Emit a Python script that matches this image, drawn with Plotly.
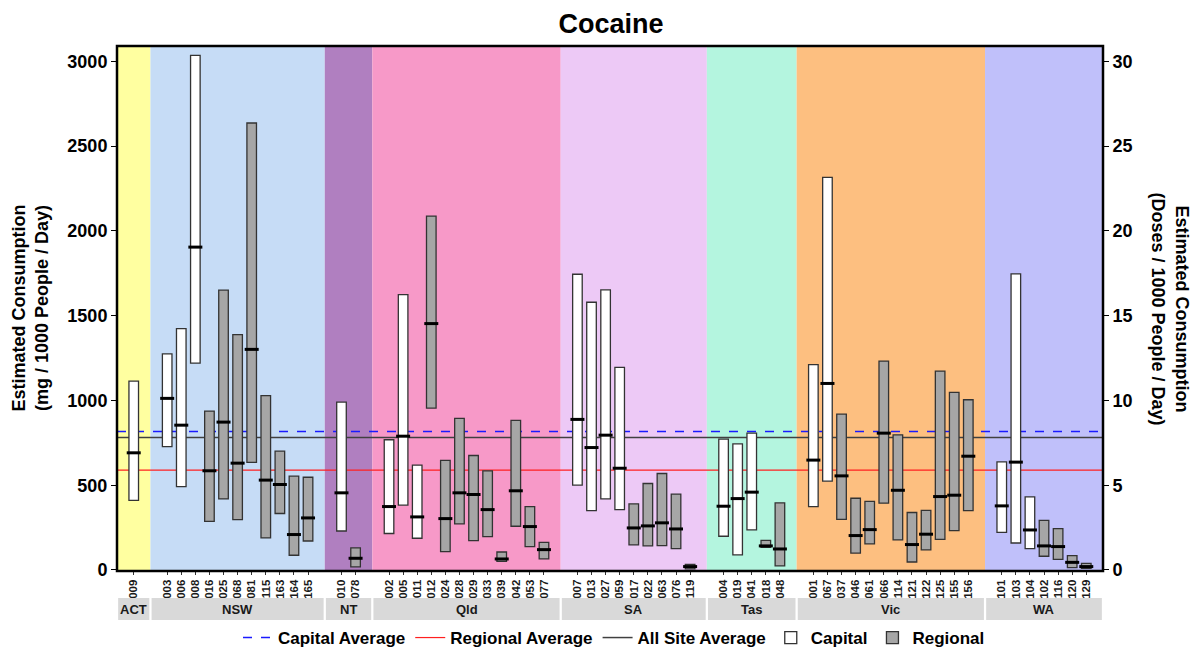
import plotly.graph_objects as go

# ---------------- data ----------------
states = ["ACT", "NSW", "NT", "Qld", "SA", "Tas", "Vic", "WA"]
state_colors = ["#FFFFA0", "#C6DCF6", "#B07FC0", "#F799C8", "#EDC9F6", "#B4F5DF", "#FDBF80", "#C0C0FA"]

sites = {
    "ACT": ["009"],
    "NSW": ["003", "006", "008", "016", "025", "068", "081", "115", "163", "164", "165"],
    "NT": ["010", "078"],
    "Qld": ["002", "005", "011", "012", "024", "028", "029", "033", "039", "042", "053", "077"],
    "SA": ["007", "013", "027", "059", "017", "022", "063", "076", "119"],
    "Tas": ["004", "019", "041", "018", "048"],
    "Vic": ["001", "067", "037", "046", "061", "066", "114", "121", "122", "125", "155", "156"],
    "WA": ["101", "103", "104", "102", "116", "120", "129"],
}
site_type = {
    "ACT": ["C"],
    "NSW": ["C", "C", "C", "R", "R", "R", "R", "R", "R", "R", "R"],
    "NT": ["C", "R"],
    "Qld": ["C", "C", "C", "R", "R", "R", "R", "R", "R", "R", "R", "R"],
    "SA": ["C", "C", "C", "C", "R", "R", "R", "R", "R"],
    "Tas": ["C", "C", "C", "R", "R"],
    "Vic": ["C", "C", "R", "R", "R", "R", "R", "R", "R", "R", "R", "R"],
    "WA": ["C", "C", "C", "R", "R", "R", "R"],
}
low = {
    "ACT": [411],
    "NSW": [728, 492, 1220, 287, 419, 297, 634, 189, 333, 87, 171],
    "NT": [230, 18],
    "Qld": [215, 382, 187, 955, 108, 272, 173, 197, 51, 258, 138, 65],
    "SA": [500, 350, 419, 356, 148, 142, 144, 126, 6],
    "Tas": [199, 89, 236, 134, 24],
    "Vic": [374, 524, 299, 100, 154, 394, 177, 47, 118, 181, 232, 350],
    "WA": [222, 159, 126, 81, 63, 14, 10],
}
high = {
    "ACT": [1114],
    "NSW": [1274, 1423, 3035, 937, 1650, 1388, 2636, 1028, 701, 553, 547],
    "NT": [990, 130],
    "Qld": [768, 1624, 618, 2087, 646, 894, 675, 585, 106, 882, 374, 163],
    "SA": [1744, 1579, 1652, 1195, 390, 510, 569, 447, 33],
    "Tas": [772, 744, 807, 175, 396],
    "Vic": [1211, 2315, 919, 423, 404, 1232, 797, 339, 352, 1173, 1047, 1004],
    "WA": [638, 1746, 431, 293, 244, 85, 39],
}
median = {
    "ACT": [691],
    "NSW": [1012, 854, 1904, 585, 872, 630, 1301, 530, 504, 209, 307],
    "NT": [455, 69],
    "Qld": [374, 789, 313, 1453, 303, 455, 445, 356, 65, 467, 256, 120],
    "SA": [888, 722, 795, 600, 248, 260, 278, 242, 20],
    "Tas": [376, 421, 459, 142, 124],
    "Vic": [648, 1100, 555, 203, 238, 807, 470, 150, 211, 433, 441, 671],
    "WA": [378, 636, 236, 142, 138, 45, 20],
}
capital_average = 817
regional_average = 589
all_site_average = 782

y_ticks = [0, 500, 1000, 1500, 2000, 2500, 3000]
y2_ticks = [0, 5, 10, 15, 20, 25, 30]
mg_per_dose = 100

# ---------------- layout helpers ----------------
PAD = 1.375  # extra units per state panel
OFF = PAD / 2 + 0.5  # centre offset of first site in a panel
BAR_W = 0.68
Y_MIN, Y_MAX = -6, 3090

groups = []  # (state, x0, x1)
xs, labels, lows, highs, meds, types = [], [], [], [], [], []
start = 0.0
for st in states:
    n = len(sites[st])
    groups.append((st, start, start + n + PAD))
    for i in range(n):
        xs.append(start + OFF + i)
        labels.append(sites[st][i])
        lows.append(low[st][i])
        highs.append(high[st][i])
        meds.append(median[st][i])
        types.append(site_type[st][i])
    start += n + PAD
X_MAX = start

fig = go.Figure()

# average lines (main subplot, behind bars)
fig.add_trace(go.Scatter(x=[0, X_MAX], y=[capital_average] * 2, mode="lines",
                         line=dict(color="#1A1AFF", width=1.5, dash="dash"),
                         name="Capital Average", xaxis="x", yaxis="y"))
fig.add_trace(go.Scatter(x=[0, X_MAX], y=[regional_average] * 2, mode="lines",
                         line=dict(color="#FF2020", width=1.2),
                         name="Regional Average", xaxis="x", yaxis="y"))
fig.add_trace(go.Scatter(x=[0, X_MAX], y=[all_site_average] * 2, mode="lines",
                         line=dict(color="#404040", width=1.5),
                         name="All Site Average", xaxis="x", yaxis="y"))

# bars on overlay subplot so they sit above the average lines
for t, nm, col in [("C", "Capital", "#FFFFFF"), ("R", "Regional", "#A6A6A6")]:
    idx = [i for i in range(len(xs)) if types[i] == t]
    fig.add_trace(go.Bar(
        x=[xs[i] for i in idx],
        base=[lows[i] for i in idx],
        y=[highs[i] - lows[i] for i in idx],
        width=BAR_W,
        marker=dict(color=col, line=dict(color="#333333", width=1.3)),
        name=nm, xaxis="x2", yaxis="y3",
    ))

# medians
fig.add_trace(go.Scatter(x=xs, y=meds, mode="markers",
                         marker=dict(symbol="line-ew", size=10, color="black",
                                     line=dict(color="black", width=3)),
                         showlegend=False, hoverinfo="skip", xaxis="x2", yaxis="y3"))

# dummy trace for right axis
fig.add_trace(go.Scatter(x=[xs[0]], y=[0], mode="markers", marker=dict(opacity=0),
                         showlegend=False, hoverinfo="skip", xaxis="x", yaxis="y2"))

PLOT_L, PLOT_R, PLOT_T, PLOT_B = 117, 1103, 46, 571
PW = PLOT_R - PLOT_L
PH = PLOT_B - PLOT_T

def px_to_paper_x(px):
    return (px - PLOT_L) / PW

def py_to_paper_y(py):
    return (PLOT_B - py) / PH

shapes = []
annotations = []
STRIP_Y0, STRIP_Y1 = py_to_paper_y(620), py_to_paper_y(598)
for (st, x0, x1), col in zip(groups, state_colors):
    shapes.append(dict(type="rect", xref="x", yref="paper", x0=x0, x1=x1, y0=0, y1=1,
                       fillcolor=col, line=dict(width=0), layer="below"))
    shapes.append(dict(type="rect", xref="x", yref="paper", x0=x0 + 0.08, x1=x1 - 0.08,
                       y0=STRIP_Y0, y1=STRIP_Y1, fillcolor="#D9D9D9", line=dict(width=0)))
    annotations.append(dict(x=(x0 + x1) / 2, y=(STRIP_Y0 + STRIP_Y1) / 2, xref="x", yref="paper",
                            text=st, showarrow=False, yanchor="middle",
                            font=dict(family="Liberation Sans", size=13, color="#1A1A1A", weight="bold")))

# plot border
shapes.append(dict(type="rect", xref="paper", yref="paper", x0=0, x1=1, y0=0, y1=1,
                   line=dict(color="black", width=2.5), fillcolor="rgba(0,0,0,0)", layer="above"))

title_font = dict(family="Liberation Sans", size=18, color="black", weight="bold")
annotations.append(dict(x=px_to_paper_x(30), y=0.5, xref="paper", yref="paper",
                        xanchor="center", yanchor="middle",
                        text="Estimated Consumption<br>(mg / 1000 People / Day)", showarrow=False,
                        textangle=-90, font=title_font))
annotations.append(dict(x=px_to_paper_x(1170), y=0.5, xref="paper", yref="paper",
                        xanchor="center", yanchor="middle",
                        text="Estimated Consumption<br>(Doses / 1000 People / Day)", showarrow=False,
                        textangle=90, font=title_font))

tickfont = dict(family="Liberation Sans", size=18, color="black", weight="bold")
fig.update_layout(
    width=1192, height=650,
    margin=dict(l=PLOT_L, r=1192 - PLOT_R, t=PLOT_T, b=650 - PLOT_B, autoexpand=False),
    paper_bgcolor="white", plot_bgcolor="rgba(0,0,0,0)",
    barmode="overlay",
    title=dict(text="Cocaine", x=px_to_paper_x(611), xref="paper", xanchor="center",
               y=1 - 24 / 650, yref="container", yanchor="middle",
               font=dict(family="Liberation Sans", size=27, color="black", weight="bold")),
    xaxis=dict(range=[0, X_MAX], tickmode="array", tickvals=xs, ticktext=labels,
               tickangle=-90, ticks="outside", ticklen=3, tickcolor="#333333",
               tickfont=dict(family="Liberation Sans", size=11.5, color="#1A1A1A", weight="bold"),
               showgrid=False, zeroline=False, showline=False),
    xaxis2=dict(range=[0, X_MAX], overlaying="x", visible=False),
    yaxis=dict(range=[Y_MIN, Y_MAX], tickmode="array", tickvals=y_ticks,
               ticks="outside", ticklen=5, tickcolor="black", tickfont=tickfont,
               showgrid=False, zeroline=False, showline=False),
    yaxis2=dict(range=[Y_MIN / mg_per_dose, Y_MAX / mg_per_dose], overlaying="y", side="right",
                tickmode="array", tickvals=y2_ticks, ticks="outside", ticklen=5,
                tickcolor="black", tickfont=tickfont, showgrid=False, zeroline=False,
                showline=False),
    yaxis3=dict(range=[Y_MIN, Y_MAX], overlaying="y", visible=False),
    legend=dict(orientation="h", x=px_to_paper_x(614), xanchor="center",
                y=py_to_paper_y(638), yanchor="middle",
                font=dict(family="Liberation Sans", size=17, color="black", weight="bold"),
                bgcolor="rgba(0,0,0,0)", itemwidth=30, tracegroupgap=0),
    shapes=shapes,
    annotations=annotations,
    showlegend=True,
)

fig.write_html("out.html", config={"displayModeBar": False},
               post_script="document.body.style.margin='0';document.body.style.overflow='hidden';")
